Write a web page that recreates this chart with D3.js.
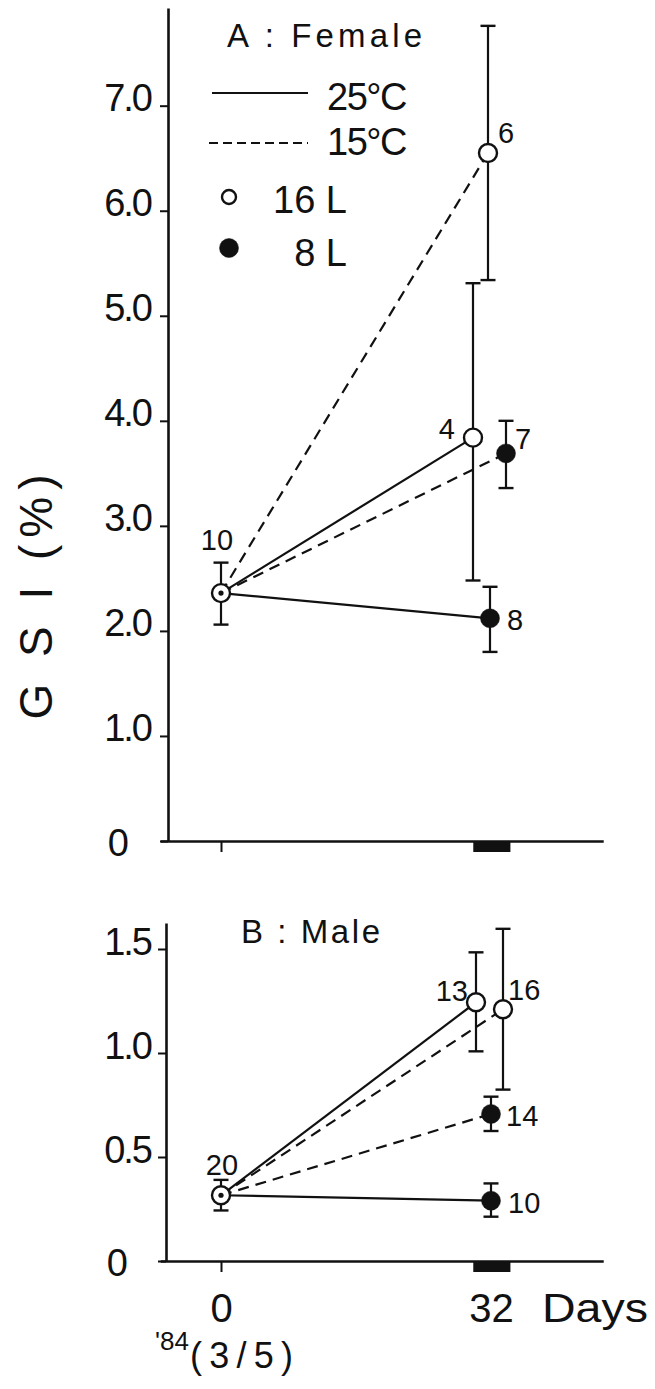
<!DOCTYPE html>
<html>
<head>
<meta charset="utf-8">
<script src="https://cdn.jsdelivr.net/npm/d3@7"></script>
<style>
  body { margin: 0; background: #fff; }
  svg text { font-family: "Liberation Sans", Arial, sans-serif; fill: #111; }
</style>
</head>
<body>
<script>
'use strict';
(function () {
  // ---- data ----
  let days = [0, 32];
  let photoperiod = ['16 L', '16 L', '8 L', '8 L'];
  let temperature = ['25°C', '15°C', '25°C', '15°C'];

  // A: Female GSI (%)
  let femaleStart = 2.36, femaleStartLo = 2.06, femaleStartHi = 2.65, femaleStartN = 10;
  let femaleEnd = [3.84, 6.55, 2.12, 3.69];
  let femaleEndLo = [2.48, 5.34, 1.80, 3.36];
  let femaleEndHi = [5.31, 7.76, 2.42, 4.00];
  let femaleN = [4, 6, 8, 7];
  let femaleTicks = [0, 1, 2, 3, 4, 5, 6, 7];

  // B: Male GSI (%)
  let maleStart = 0.316, maleStartLo = 0.243, maleStartHi = 0.39, maleStartN = 20;
  let maleEnd = [1.244, 1.21, 0.29, 0.707];
  let maleEndLo = [1.008, 0.824, 0.213, 0.625];
  let maleEndHi = [1.484, 1.597, 0.373, 0.79];
  let maleN = [13, 16, 10, 14];
  let maleTicks = [0, 0.5, 1, 1.5];

  let darkPeriod = [29.9, 34.3]; // black bar under the axis at day 32

  let svg = "";
  let xScale = d3.scaleLinear().domain([0, 32]).range([221, 491]);

  window.onload = function () {
    svg = d3.select('body')
      .append('svg')
      .attr('width', 655)
      .attr('height', 1389);

    drawPanel({
      start: femaleStart, startLo: femaleStartLo, startHi: femaleStartHi, startN: femaleStartN,
      end: femaleEnd, lo: femaleEndLo, hi: femaleEndHi, n: femaleN, ticks: femaleTicks,
      yTop: 7.93, y0: 841, yTopPx: 8, axisX: 168,
      dodge: [-18, -3, -1, 15],
      startLabel: { dx: -4, dy: -43 },
      labels: [
        { anchor: 'end', dx: -18, dy: 1 },
        { anchor: 'start', dx: 10, dy: -10 },
        { anchor: 'start', dx: 17, dy: 12 },
        { anchor: 'start', dx: 9, dy: -4 }
      ],
      tickLabelX: -17, zeroLabelX: -41, showDays: false
    });

    drawPanel({
      start: maleStart, startLo: maleStartLo, startHi: maleStartHi, startN: maleStartN,
      end: maleEnd, lo: maleEndLo, hi: maleEndHi, n: maleN, ticks: maleTicks,
      yTop: 1.625, y0: 1261, yTopPx: 923, axisX: 166,
      dodge: [-15, 12, 0, 0],
      startLabel: { dx: 1, dy: -20 },
      labels: [
        { anchor: 'end', dx: -8, dy: -1 },
        { anchor: 'start', dx: 5, dy: -9 },
        { anchor: 'start', dx: 17, dy: 12 },
        { anchor: 'start', dx: 15, dy: 12 }
      ],
      tickLabelX: -15, zeroLabelX: -40, showDays: true
    });

    drawLegend();
    drawTitles();
  }

  function drawPanel(p) {
    let g = svg.append('g');
    let yScale = d3.scaleLinear().domain([0, p.yTop]).range([p.y0, p.yTopPx]);

    // y axis
    let yAxis = d3.axisLeft(yScale).tickValues(p.ticks).tickSize(8).tickSizeOuter(0)
      .tickFormat((d) => d === 0 ? '0' : d3.format('.1f')(d));
    let ya = g.append('g')
      .attr('transform', 'translate(' + p.axisX + ',0)')
      .call(yAxis);
    ya.select('.domain').attr('stroke', '#111').attr('stroke-width', 2.6);
    ya.selectAll('.tick line').attr('stroke', '#111').attr('stroke-width', 2);
    ya.selectAll('.tick text')
      .attr('x', (d) => d === 0 ? p.zeroLabelX : p.tickLabelX)
      .attr('dy', (d) => d === 0 ? '0.37em' : '5px')
      .style('font-size', '38px')
      .style('letter-spacing', '-2px')
      .style('font-family', '"Liberation Sans", Arial, sans-serif')
      .attr('fill', '#111');

    // x axis (baseline reaches a bit past both sides)
    let xAxisScale = xScale.copy().domain([-7.2, 45.3]).range([xScale(-7.2), xScale(45.3)]);
    let xAxis = d3.axisBottom(xAxisScale).tickValues(days).tickSize(11).tickSizeOuter(0)
      .tickFormat((d) => p.showDays ? d : '');
    let xa = g.append('g')
      .attr('transform', 'translate(0,' + p.y0 + ')')
      .call(xAxis);
    xa.select('.domain').attr('stroke', '#111').attr('stroke-width', 2.6);
    xa.selectAll('.tick line').attr('stroke', '#111').attr('stroke-width', 2);
    xa.selectAll('.tick text')
      .attr('y', 61).attr('dy', 0)
      .style('font-size', '40px')
      .style('font-family', '"Liberation Sans", Arial, sans-serif')
      .attr('fill', '#111');

    g.append('rect')
      .attr('x', xScale(darkPeriod[0]))
      .attr('y', p.y0)
      .attr('width', xScale(darkPeriod[1]) - xScale(darkPeriod[0]))
      .attr('height', 11)
      .attr('fill', '#111');

    if (p.showDays) {
      g.append('text').attr('x', 542).attr('y', p.y0 + 61)
        .attr('textLength', 106).attr('lengthAdjust', 'spacingAndGlyphs')
        .style('font-size', '40px').text('Days');
      g.append('text').attr('x', 155).attr('y', p.y0 + 89)
        .style('font-size', '26px').text("'84");
      g.append('text').attr('x', 190).attr('y', p.y0 + 107)
        .attr('textLength', 103).attr('lengthAdjust', 'spacing')
        .style('font-size', '36px').text('(3/5)');
    }

    let sx = xScale(days[0]);
    let sy = yScale(p.start);

    // lines from day 0 to day 32
    p.end.forEach((v, i) => {
      let ex = xScale(days[1]) + p.dodge[i];
      g.append('line')
        .attr('x1', sx).attr('y1', sy)
        .attr('x2', ex).attr('y2', yScale(v))
        .attr('stroke', '#111')
        .attr('stroke-width', 2.2)
        .attr('stroke-dasharray', temperature[i] === '15°C' ? '11,7' : null);
    });

    // error bars
    let bars = [{ x: sx, lo: p.startLo, hi: p.startHi }];
    p.end.forEach((v, i) => bars.push({ x: xScale(days[1]) + p.dodge[i], lo: p.lo[i], hi: p.hi[i] }));
    bars.forEach((b) => {
      g.append('line').attr('x1', b.x).attr('x2', b.x)
        .attr('y1', yScale(b.lo)).attr('y2', yScale(b.hi))
        .attr('stroke', '#111').attr('stroke-width', 2.2);
      [b.lo, b.hi].forEach((c) => {
        g.append('line').attr('x1', b.x - 7.5).attr('x2', b.x + 7.5)
          .attr('y1', yScale(c)).attr('y2', yScale(c))
          .attr('stroke', '#111').attr('stroke-width', 2.4);
      });
    });

    // markers
    p.end.forEach((v, i) => {
      let open = photoperiod[i] === '16 L';
      g.append('circle')
        .attr('cx', xScale(days[1]) + p.dodge[i])
        .attr('cy', yScale(v))
        .attr('r', open ? 9 : 9.5)
        .attr('fill', open ? '#fff' : '#111')
        .attr('stroke', '#111')
        .attr('stroke-width', open ? 2.4 : 0.5);
    });
    g.append('circle').attr('cx', sx).attr('cy', sy).attr('r', 9)
      .attr('fill', '#fff').attr('stroke', '#111').attr('stroke-width', 2.4);
    g.append('circle').attr('cx', sx).attr('cy', sy).attr('r', 2.6).attr('fill', '#111');

    // sample sizes
    g.append('text')
      .attr('x', sx + p.startLabel.dx).attr('y', sy + p.startLabel.dy)
      .attr('text-anchor', 'middle')
      .style('font-size', '29px')
      .text(p.startN);
    p.end.forEach((v, i) => {
      g.append('text')
        .attr('x', xScale(days[1]) + p.dodge[i] + p.labels[i].dx)
        .attr('y', yScale(v) + p.labels[i].dy)
        .attr('text-anchor', p.labels[i].anchor)
        .style('font-size', '29px')
        .text(p.n[i]);
    });
  }

  function drawLegend() {
    let g = svg.append('g');
    let lineY = [93, 143];
    let textY = [110, 155];
    ['25°C', '15°C'].forEach((t, i) => {
      g.append('line')
        .attr('x1', i === 0 ? 212 : 209).attr('x2', 308)
        .attr('y1', lineY[i]).attr('y2', lineY[i])
        .attr('stroke', '#111').attr('stroke-width', 2.2)
        .attr('stroke-dasharray', t === '15°C' ? '9,5' : null);
      g.append('text').attr('x', 327).attr('y', textY[i])
        .style('font-size', '38px').style('letter-spacing', '-1.5px')
        .text(t);
    });
    let markY = [197, 248];
    let markTextY = [213, 266];
    ['16 L', '8 L'].forEach((t, i) => {
      g.append('circle').attr('cx', 229).attr('cy', markY[i])
        .attr('r', i === 0 ? 7 : 9.5)
        .attr('fill', i === 0 ? '#fff' : '#111')
        .attr('stroke', '#111').attr('stroke-width', i === 0 ? 2.4 : 0.5);
      g.append('text').attr('x', 347).attr('y', markTextY[i])
        .attr('text-anchor', 'end')
        .style('font-size', '38px')
        .text(t);
    });
  }

  function drawTitles() {
    svg.append('text').attr('x', 227).attr('y', 47)
      .attr('textLength', 195).attr('lengthAdjust', 'spacing')
      .style('font-size', '33px').text('A : Female');
    svg.append('text').attr('x', 241).attr('y', 943)
      .attr('textLength', 139).attr('lengthAdjust', 'spacing')
      .style('font-size', '33px').text('B : Male');
    svg.append('text')
      .attr('transform', 'translate(52,597)rotate(-90)')
      .attr('text-anchor', 'middle')
      .attr('textLength', 245).attr('lengthAdjust', 'spacing')
      .style('font-size', '46px')
      .text('G S I (%)');
  }
})();
</script>
</body>
</html>
